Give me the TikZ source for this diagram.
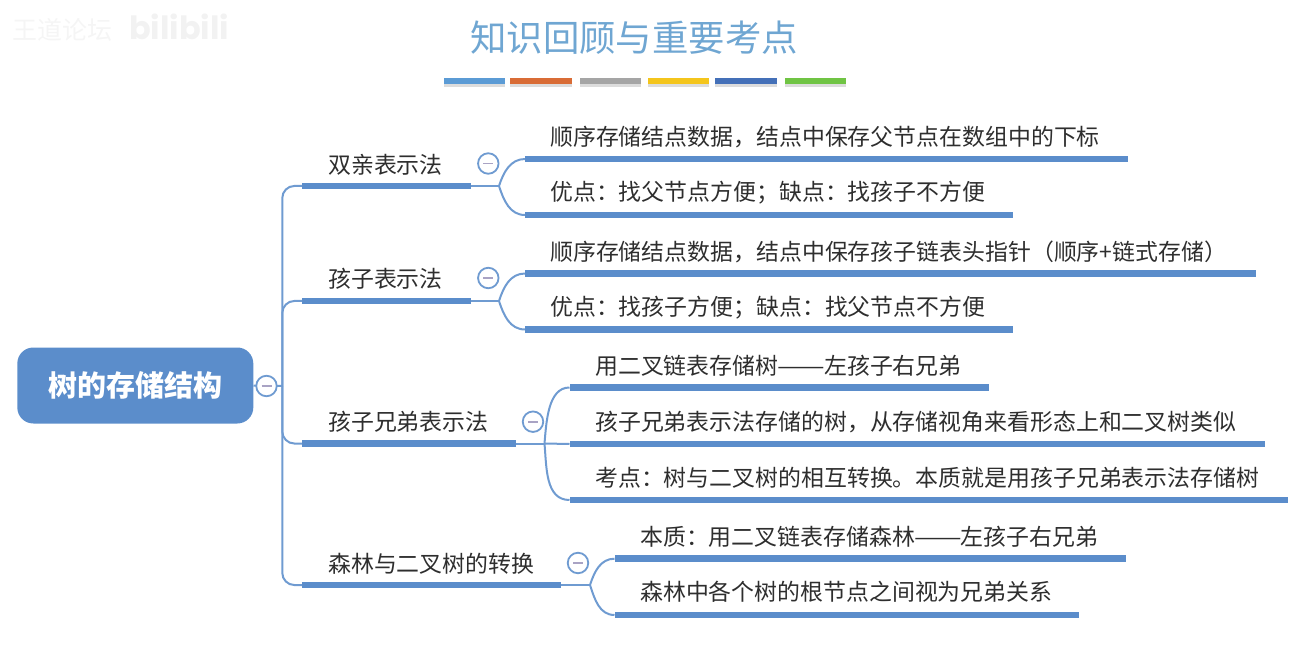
\documentclass[tikz,border=0pt]{standalone}
\usepackage{fontspec}
\setmainfont{Noto Sans CJK SC}
\newfontfamily\wmfont{Poppins}
\definecolor{mainblue}{HTML}{5B8DCB}
\definecolor{linkblue}{HTML}{6F9BD1}
\definecolor{titleblue}{HTML}{6FA6D2}
\definecolor{txt}{HTML}{2E2E2E}
\definecolor{minusc}{HTML}{A9A3C4}
\newcommand{\longdash}{\makebox[2em][c]{\scalebox{1.24}[1]{——}}}
\tikzset{
  x=1pt,y=-1pt,
  bar/.style={fill=mainblue,draw=none,rectangle,inner sep=0pt,minimum height=6.5pt,anchor=west},
  lvltwo/.style={font=\fontsize{22.9}{24}\selectfont,text=txt,inner sep=0pt,anchor=west},
  lvlthree/.style={font=\fontsize{22.9}{24}\selectfont,text=txt,inner sep=0pt,anchor=west},
  conn/.style={draw=linkblue,line width=2pt},
  fold/.style={circle,draw=linkblue,fill=white,line width=1.8pt,minimum size=20.5pt,inner sep=0pt,
    path picture={\draw[minusc,line width=1.8pt] ([xshift=-5pt]path picture bounding box.center) -- ([xshift=5pt]path picture bounding box.center);}},
  colorbar/.style={rectangle,inner sep=0pt,minimum height=6pt,anchor=west},
  shade/.style={rectangle,inner sep=0pt,minimum height=6pt,anchor=west,fill=black!30},
}
\begin{document}
\begin{tikzpicture}
\useasboundingbox (0,0) rectangle (1302,655);
% watermark
\node[inner sep=0pt,anchor=west,text=black!4,font=\fontsize{25}{27}\selectfont] (wma) at (12,30) {王道论坛};
\node[inner sep=0pt,anchor=west,text=black!5,font=\wmfont\bfseries\fontsize{32}{34}\selectfont] (wmb) at (129,27) {bilibili};
% title
\node[inner sep=0pt,text=titleblue,font=\fontsize{36.4}{40}\selectfont] (title) at (634,38) {知识回顾与重要考点};
\foreach \xa/\w/\c/\n in {444/61/5B9BD5/ca,510/62/D96C36/cb,580/61/A5A5A5/cc,648/61/F4C51C/cd,715/62/4470B8/ce,785/61/70C444/cf}{
  \node[shade,minimum width=\w pt,fill opacity=.45] (\n s) at (\xa,84) {};
  \definecolor{tmpc}{HTML}{\c}
  \node[colorbar,minimum width=\w pt,fill=tmpc] (\n) at (\xa,81) {};
}
% root
\node[rectangle,rounded corners=16pt,fill=mainblue,minimum width=236pt,minimum height=76pt,inner sep=0pt,text=white,font=\bfseries\fontsize{29}{31}\selectfont] (root) at (135.3,385.5) {\hspace{1pt}\raisebox{-2.5pt}{树的存储结构}};
% level two bars
\node[bar,minimum width=168.5pt] (b1) at (302,186) {};
\node[bar,minimum width=168.5pt] (b2) at (302,301) {};
\node[bar,minimum width=214pt] (b3) at (302,443.5) {};
\node[bar,minimum width=259pt] (b4) at (302,585) {};
\node[lvltwo] (t1) at (328,164.5) {双亲表示法};
\node[lvltwo] (t2) at (328,278.5) {孩子表示法};
\node[lvltwo] (t3) at (328,421.5) {孩子兄弟表示法};
\node[lvltwo] (t4) at (328,563.5) {森林与二叉树的转换};
% level three bars
\node[bar,minimum width=603pt] (a1) at (525,159) {};
\node[bar,minimum width=488pt] (a2) at (525,215) {};
\node[bar,minimum width=731pt] (a3) at (525,273.5) {};
\node[bar,minimum width=488pt] (a4) at (525,329.5) {};
\node[bar,minimum width=419.5pt] (a5) at (569.5,387.5) {};
\node[bar,minimum width=695.5pt] (a6) at (569.5,444) {};
\node[bar,minimum width=718.5pt] (a7) at (569.5,500) {};
\node[bar,minimum width=511.5pt] (a8) at (614.5,558.7) {};
\node[bar,minimum width=464.5pt] (a9) at (614.5,615) {};
\node[lvlthree] (s1) at (550,137) {顺序存储结点数据，结点中保存父节点在数组中的下标};
\node[lvlthree] (s2) at (550,193) {优点：找父节点方便；缺点：找孩子不方便};
\node[lvlthree] (s3) at (550,252) {顺序存储结点数据，结点中保存孩子链表头指针（顺序+链式存储）};
\node[lvlthree] (s4) at (550,307.5) {优点：找孩子方便；缺点：找父节点不方便};
\node[lvlthree] (s5) at (595,366) {用二叉链表存储树\longdash 左孩子右兄弟};
\node[lvlthree] (s6) at (595,422) {孩子兄弟表示法存储的树，从存储视角来看形态上和二叉树类似};
\node[lvlthree] (s7) at (595,478) {考点：树与二叉树的相互转换。本质就是用孩子兄弟表示法存储树};
\node[lvlthree] (s8) at (640,537) {本质：用二叉链表存储森林\longdash 左孩子右兄弟};
\node[lvlthree] (s9) at (640,592) {森林中各个树的根节点之间视为兄弟关系};
% hubs
\coordinate (h0) at (282.3,386);
\coordinate (h1) at (499,186);
\coordinate (h2) at (499,301);
\coordinate (h3) at (544.5,443.5);
\coordinate (h4) at (590,585);
% connectors
\draw[conn] (root.east) -- (h0);
\foreach \b in {b1,b2,b3,b4}{
  \draw[conn,rounded corners=12pt] (h0) |- (\b.west);
}
\draw[conn] (b1.east) -- (h1);
\draw[conn] (b2.east) -- (h2);
\draw[conn] (b3.east) -- (h3);
\draw[conn] (b4.east) -- (h4);
\draw[conn] (h1) to[out=72,in=180] (a1.west);
\draw[conn] (h1) to[out=-72,in=180] (a2.west);
\draw[conn] (h2) to[out=72,in=180] (a3.west);
\draw[conn] (h2) to[out=-72,in=180] (a4.west);
\draw[conn] (h3) to[out=85,in=180,looseness=0.9] (a5.west);
\draw[conn] (h3) -- (a6.west);
\draw[conn] (h3) to[out=-85,in=180] (a7.west);
\draw[conn] (h4) to[out=72,in=180] (a8.west);
\draw[conn] (h4) to[out=-72,in=180] (a9.west);
% fold markers
\node[fold] (f0) at (266.5,386) {};
\node[fold] (f1) at (488.3,163.5) {};
\node[fold] (f2) at (488.3,278) {};
\node[fold] (f3) at (533,421.7) {};
\node[fold] (f4) at (578,563) {};
\end{tikzpicture}
\end{document}
